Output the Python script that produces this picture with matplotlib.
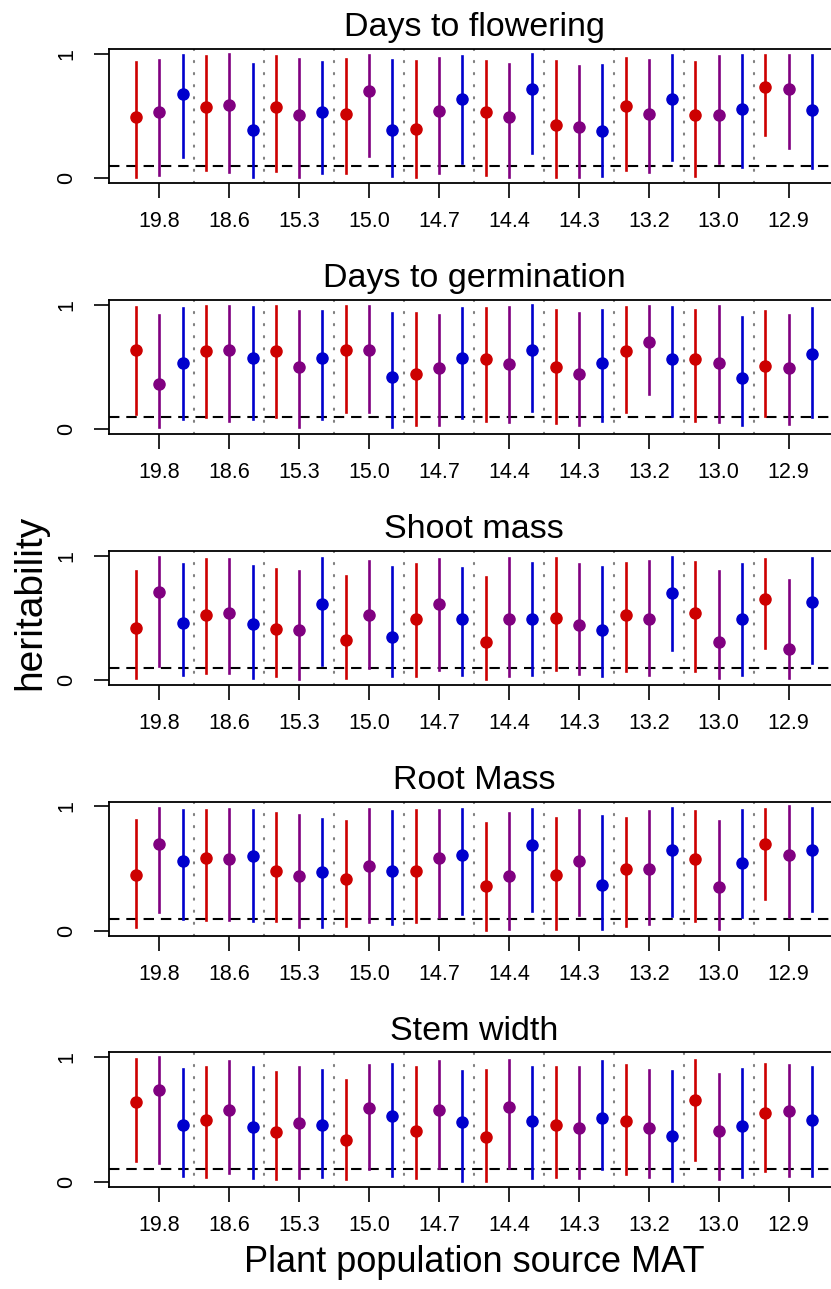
import matplotlib
matplotlib.use("Agg")
import matplotlib.pyplot as plt

plt.rcParams['font.family'] = ['Liberation Sans', 'DejaVu Sans']

# source MAT of each population (one label per group of three)
mat_labels = ['19.8', '18.6', '15.3', '15.0', '14.7', '14.4', '14.3', '13.2', '13.0', '12.9']
titles = ['Days to flowering', 'Days to germination', 'Shoot mass', 'Root Mass', 'Stem width']
cols = ['#CD0000', '#800080', '#0000CD']

# heritability estimates with lower / upper interval, 30 per trait
flow_est = [0.49, 0.53, 0.68, 0.57, 0.59, 0.39, 0.57, 0.51, 0.53, 0.52, 0.70, 0.39, 0.40, 0.54, 0.64,
            0.53, 0.49, 0.72, 0.43, 0.41, 0.38, 0.58, 0.52, 0.64, 0.51, 0.51, 0.56, 0.73, 0.72, 0.55]
flow_hi = [0.93, 0.95, 0.99, 0.98, 1.00, 0.92, 0.98, 0.96, 0.93, 0.96, 0.99, 0.95, 0.94, 0.97, 0.98,
           0.94, 0.92, 1.00, 0.94, 0.90, 0.91, 0.97, 0.95, 0.99, 0.93, 0.98, 0.99, 0.99, 0.99, 0.99]
flow_lo = [0.01, 0.03, 0.17, 0.07, 0.05, 0.01, 0.06, 0.01, 0.04, 0.04, 0.18, 0.02, 0.01, 0.04, 0.12,
           0.03, 0.01, 0.20, 0.01, 0.01, 0.02, 0.07, 0.05, 0.15, 0.02, 0.12, 0.09, 0.35, 0.24, 0.08]

germ_est = [0.64, 0.36, 0.53, 0.63, 0.64, 0.57, 0.63, 0.50, 0.57, 0.64, 0.64, 0.42, 0.44, 0.49, 0.57,
            0.56, 0.52, 0.64, 0.50, 0.44, 0.53, 0.63, 0.70, 0.56, 0.56, 0.53, 0.41, 0.51, 0.49, 0.60]
germ_hi = [0.98, 0.92, 0.97, 0.99, 0.99, 0.98, 0.99, 0.95, 0.95, 0.99, 0.99, 0.93, 0.93, 0.92, 0.97,
           0.97, 0.98, 1.00, 0.96, 0.93, 0.96, 0.98, 0.99, 0.98, 0.96, 0.99, 0.90, 0.95, 0.92, 0.97]
germ_lo = [0.12, 0.02, 0.08, 0.10, 0.07, 0.08, 0.10, 0.02, 0.08, 0.14, 0.14, 0.02, 0.03, 0.03, 0.09,
           0.07, 0.06, 0.15, 0.05, 0.03, 0.07, 0.14, 0.28, 0.11, 0.07, 0.06, 0.03, 0.11, 0.04, 0.10]

shoot_est = [0.42, 0.71, 0.46, 0.52, 0.54, 0.45, 0.41, 0.40, 0.61, 0.32, 0.52, 0.35, 0.49, 0.61, 0.49,
             0.31, 0.49, 0.49, 0.50, 0.44, 0.40, 0.52, 0.49, 0.70, 0.54, 0.31, 0.49, 0.65, 0.25, 0.63]
shoot_hi = [0.88, 0.99, 0.93, 0.97, 0.97, 0.92, 0.89, 0.88, 0.98, 0.84, 0.96, 0.91, 0.93, 0.97, 0.90,
            0.83, 0.98, 0.94, 0.98, 0.93, 0.91, 0.94, 0.96, 0.99, 0.95, 0.88, 0.93, 0.97, 0.80, 0.98]
shoot_lo = [0.02, 0.11, 0.04, 0.06, 0.06, 0.02, 0.03, 0.01, 0.12, 0.02, 0.10, 0.03, 0.03, 0.08, 0.04,
            0.01, 0.03, 0.04, 0.08, 0.05, 0.03, 0.07, 0.04, 0.24, 0.07, 0.02, 0.04, 0.26, 0.02, 0.14]

root_est = [0.45, 0.70, 0.56, 0.59, 0.58, 0.60, 0.48, 0.44, 0.47, 0.42, 0.52, 0.48, 0.48, 0.59, 0.61,
            0.36, 0.44, 0.69, 0.45, 0.56, 0.37, 0.50, 0.50, 0.65, 0.58, 0.35, 0.55, 0.70, 0.61, 0.65]
root_hi = [0.89, 0.99, 0.97, 0.97, 0.98, 0.97, 0.95, 0.93, 0.90, 0.88, 0.98, 0.96, 0.97, 0.97, 0.98,
           0.87, 0.95, 0.98, 0.91, 0.97, 0.92, 0.91, 0.96, 0.99, 0.96, 0.88, 0.97, 0.98, 1.00, 0.99]
root_lo = [0.03, 0.15, 0.10, 0.09, 0.09, 0.08, 0.08, 0.03, 0.03, 0.04, 0.07, 0.06, 0.07, 0.11, 0.14,
           0.01, 0.02, 0.16, 0.02, 0.13, 0.02, 0.04, 0.06, 0.12, 0.08, 0.02, 0.11, 0.26, 0.11, 0.16]

stem_est = [0.64, 0.74, 0.46, 0.50, 0.58, 0.44, 0.40, 0.47, 0.46, 0.34, 0.59, 0.53, 0.41, 0.58, 0.48,
            0.36, 0.60, 0.49, 0.46, 0.43, 0.51, 0.49, 0.43, 0.37, 0.66, 0.41, 0.45, 0.55, 0.57, 0.50]
stem_hi = [0.99, 1.00, 0.91, 0.92, 0.97, 0.92, 0.88, 0.92, 0.90, 0.82, 0.94, 0.95, 0.92, 0.97, 0.89,
           0.90, 0.98, 0.92, 0.92, 0.92, 0.97, 0.94, 0.90, 0.89, 0.98, 0.87, 0.91, 0.95, 0.94, 0.92]
stem_lo = [0.17, 0.15, 0.05, 0.04, 0.07, 0.03, 0.02, 0.03, 0.04, 0.02, 0.10, 0.05, 0.03, 0.11, 0.01,
           0.01, 0.11, 0.03, 0.04, 0.03, 0.10, 0.06, 0.04, 0.01, 0.18, 0.02, 0.04, 0.09, 0.05, 0.05]

traits = [(flow_est, flow_lo, flow_hi), (germ_est, germ_lo, germ_hi), (shoot_est, shoot_lo, shoot_hi),
          (root_est, root_lo, root_hi), (stem_est, stem_lo, stem_hi)]

W, H = 831, 1289
fig = plt.figure(figsize=(W / 100, H / 100), dpi=100)

x = list(range(1, 31))
for k, (est, lo, hi) in enumerate(traits):
    y0 = 178.3 + 250.9 * k          # pixel row of heritability 0
    top = y0 - 129.5
    bot = y0 + 5.0
    ax = fig.add_axes([109 / W, 1 - bot / H, 730 / W, (bot - top) / H])
    ax.set_xlim(-0.16, 31.16)
    ax.set_ylim(-0.04, 1.04)

    # dotted separators between populations
    for g in range(1, 10):
        ax.axvline(g * 3 + 0.5, color='#808080', lw=1.5, dashes=(0.6, 5.2),
                   dash_capstyle='round', zorder=1)
    ax.axhline(0.1, color='black', lw=1.5, dashes=(5, 3.3), zorder=2)

    for i in range(30):
        c = cols[i % 3]
        ax.plot([x[i], x[i]], [lo[i], hi[i]], color=c, lw=1.9, zorder=3)
        ax.plot(x[i], est[i], 'o', color=c, ms=8, zorder=4)

    ax.set_xticks(range(2, 30, 3))
    ax.set_xticklabels(mat_labels)
    ax.set_yticks([0, 1])
    ax.set_yticklabels(['0', '1'], rotation=90, va='center')
    ax.tick_params(axis='both', length=11, width=1.2, labelsize=15.5)
    ax.tick_params(axis='x', pad=9)
    ax.tick_params(axis='y', pad=12)
    for s in ax.spines.values():
        s.set_linewidth(1.3)
    ax.set_title(titles[k], fontsize=24.5, pad=9)

fig.text(30 / W, 1 - 602 / H, 'heritability', rotation=90, ha='center', va='center', fontsize=28)
fig.text(474 / W, 1 - 1262 / H, 'Plant population source MAT', ha='center', va='center', fontsize=26)

fig.savefig('out.png', dpi=100)
